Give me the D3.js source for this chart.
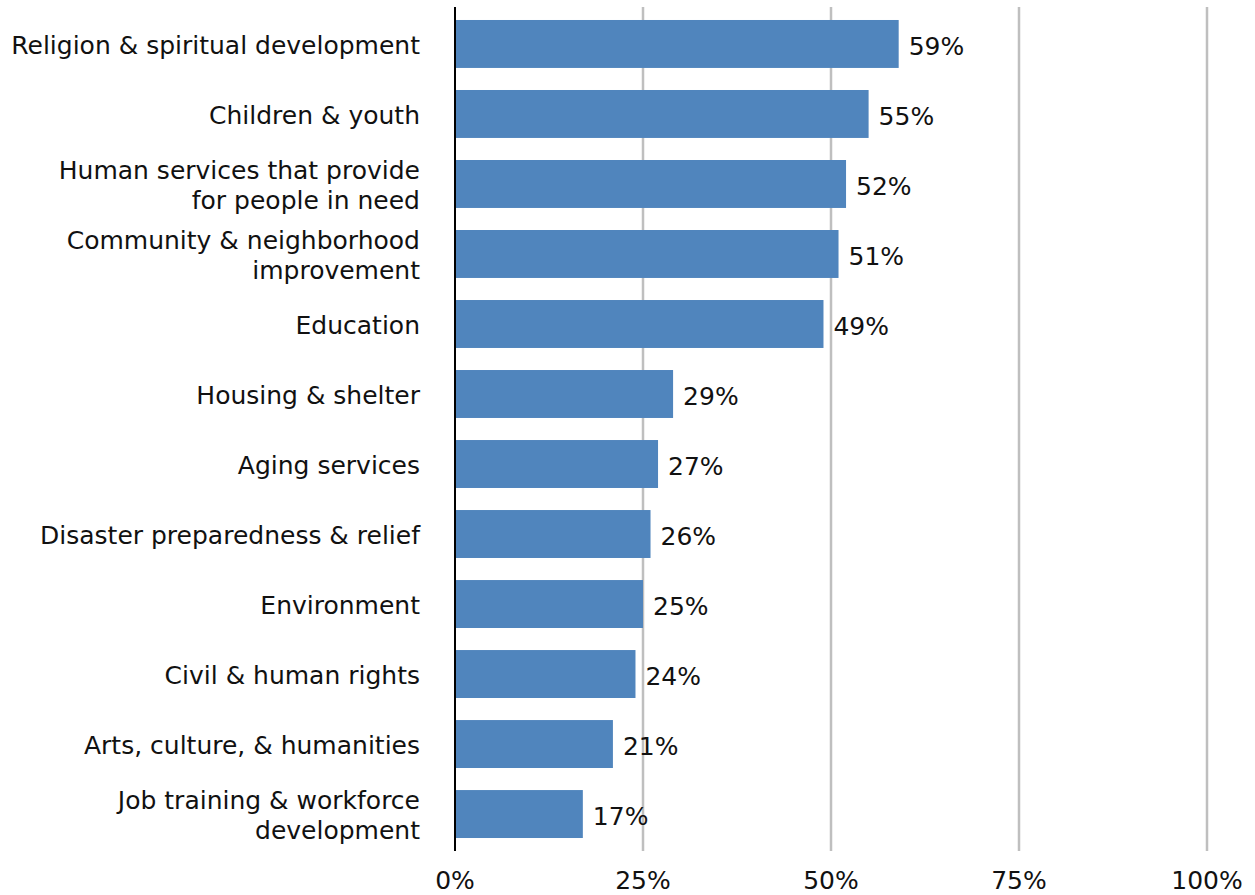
<!DOCTYPE html>
<html>
<head>
<meta charset="utf-8">
<script src="https://cdn.jsdelivr.net/npm/d3@7"></script>
<style>
  body { margin: 0; background: #fff; }
  text { font-family: "DejaVu Sans", sans-serif; fill: #111; }
</style>
</head>
<body>
<svg id="chart" width="1255" height="895"></svg>
<script>
// categories (lines split for wrapped labels)
const categories = [
  ["Religion & spiritual development"],
  ["Children & youth"],
  ["Human services that provide", "for people in need"],
  ["Community & neighborhood", "improvement"],
  ["Education"],
  ["Housing & shelter"],
  ["Aging services"],
  ["Disaster preparedness & relief"],
  ["Environment"],
  ["Civil & human rights"],
  ["Arts, culture, & humanities"],
  ["Job training & workforce", "development"]
];
const values = [59, 55, 52, 51, 49, 29, 27, 26, 25, 24, 21, 17];
const ticks = [0, 25, 50, 75, 100];

const svg = d3.select("#chart");
const margin = { top: 9, left: 455, right: 48, bottom: 46 };
const W = 1255, H = 895;
const fs = 25;

const x = d3.scaleLinear().domain([0, 100]).range([margin.left, W - margin.right]);
const y = d3.scaleBand()
  .domain(d3.range(categories.length))
  .range([margin.top, H - margin.bottom])
  .paddingInner(0.315)
  .paddingOuter(0.157);

// gridlines
svg.append("g").selectAll("line")
  .data(ticks.filter(t => t > 0))
  .join("line")
  .attr("x1", d => x(d)).attr("x2", d => x(d))
  .attr("y1", margin.top - 2).attr("y2", H - margin.bottom + 2)
  .attr("stroke", "#bfbfbf").attr("stroke-width", 2.5);

// bars
svg.append("g").selectAll("rect")
  .data(values)
  .join("rect")
  .attr("x", x(0))
  .attr("y", (d, i) => y(i))
  .attr("width", d => x(d) - x(0))
  .attr("height", y.bandwidth())
  .attr("fill", "#5085bd");

// axis line
svg.append("line")
  .attr("x1", x(0)).attr("x2", x(0))
  .attr("y1", margin.top - 2).attr("y2", H - margin.bottom + 2)
  .attr("stroke", "#000").attr("stroke-width", 2);

// value labels
svg.append("g").selectAll("text")
  .data(values)
  .join("text")
  .attr("x", d => x(d) + 10)
  .attr("y", (d, i) => y(i) + y.bandwidth() / 2 + 2)
  .attr("dy", "0.36em")
  .attr("font-size", fs)
  .text(d => d + "%");

// category labels
const lab = svg.append("g").selectAll("text")
  .data(categories)
  .join("text")
  .attr("text-anchor", "end")
  .attr("font-size", fs)
  .attr("y", (d, i) => y(i) + y.bandwidth() / 2 + 1);
lab.selectAll("tspan")
  .data(d => d.map((t, j) => ({ t, j, n: d.length })))
  .join("tspan")
  .attr("x", margin.left - 35)
  .attr("dy", d => d.j === 0 ? (0.36 * fs - (d.n - 1) * 15) + "px" : "30px")
  .text(d => d.t);

// tick labels
svg.append("g").selectAll("text")
  .data(ticks)
  .join("text")
  .attr("x", d => x(d))
  .attr("y", 880)
  .attr("dy", "0.36em")
  .attr("text-anchor", "middle")
  .attr("font-size", fs)
  .text(d => d + "%");
</script>
</body>
</html>
